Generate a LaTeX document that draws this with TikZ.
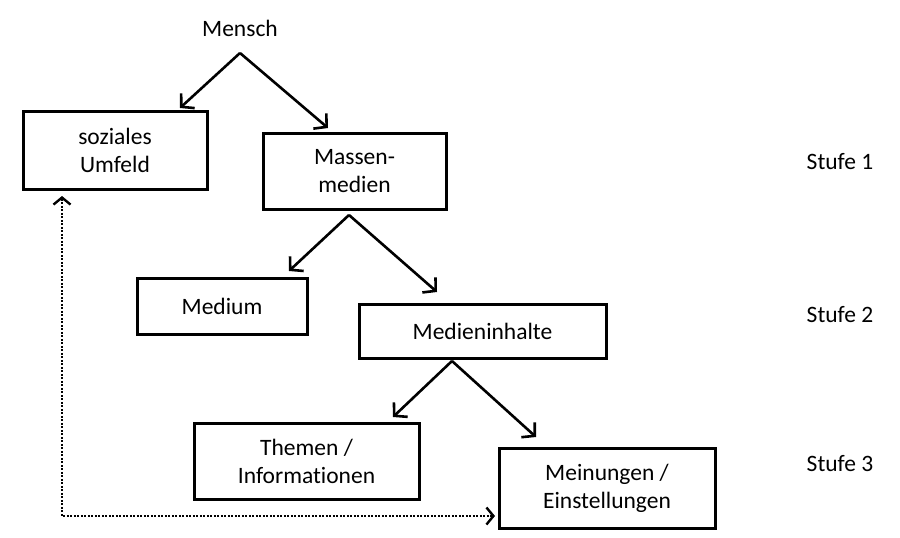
\documentclass[tikz,border=0pt]{standalone}
\usepackage{fontspec}
\setmainfont[Ligatures=NoCommon]{Carlito}
\usetikzlibrary{arrows.meta}
\begin{document}
\begin{tikzpicture}[x=1pt,y=-1pt,
  box/.style={draw,line width=3pt,align=center,inner sep=0pt,
    font=\fontsize{23.5}{28}\selectfont},
  lbl/.style={font=\fontsize{23.5}{28}\selectfont,inner sep=0pt},
  arr/.style={line width=2.6pt,-{Straight Barb[length=9pt,width=20pt,line width=2.6pt]}},
  dotarr/.style={line width=2.6pt,dash pattern=on 2pt off 1.5pt,
    {Straight Barb[length=7pt,width=17pt,line width=2.4pt]}-{Straight Barb[length=7pt,width=17pt,line width=2.4pt]}}]
\useasboundingbox (0,0) rectangle (900,538);
% nodes
\node[lbl] (mensch) at (240,28) {Mensch};
\node[box,minimum width=184pt,minimum height=78pt] (soz) at (115,150) {soziales\\Umfeld};
\node[box,minimum width=183pt,minimum height=76pt] (mass) at (354.5,171) {Massen-\\medien};
\node[box,minimum width=170pt,minimum height=56pt] (med) at (222,306) {Medium};
\node[box,minimum width=247pt,minimum height=54pt] (inh) at (482.5,331) {Medieninhalte};
\node[box,minimum width=225pt,minimum height=76pt] (them) at (306.5,461) {Themen /\\Informationen};
\node[box,minimum width=216pt,minimum height=80pt] (mein) at (607,488) {Meinungen /\\Einstellungen};
\node[lbl] (s1) at (840,162) {Stufe 1};
\node[lbl] (s2) at (840,315) {Stufe 2};
\node[lbl] (s3) at (840,464) {Stufe 3};
% apex and tip coordinates
\coordinate (a1) at (240,53);
\coordinate (t1) at (180,108);
\coordinate (t2) at (328,128);
\coordinate (a2) at (349,215);
\coordinate (t3) at (289,271);
\coordinate (t4) at (437,292);
\coordinate (a3) at (452,361);
\coordinate (t5) at (393,417);
\coordinate (t6) at (536,437);
\coordinate (d1) at (62,196);
\coordinate (d2) at (495,516);
% connectors
\draw[arr] (a1) -- (t1);
\draw[arr] (a1) -- (t2);
\draw[arr] (a2) -- (t3);
\draw[arr] (a2) -- (t4);
\draw[arr] (a3) -- (t5);
\draw[arr] (a3) -- (t6);
\draw[dotarr] (d1) |- (d2);
\end{tikzpicture}
\end{document}
